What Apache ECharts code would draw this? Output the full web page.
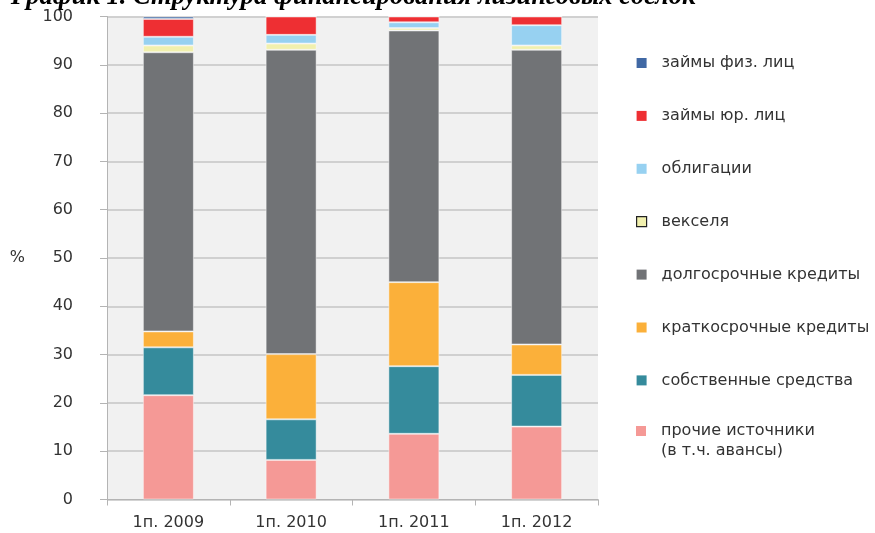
<!DOCTYPE html>
<html>
<head>
<meta charset="utf-8">
<script src="https://cdn.jsdelivr.net/npm/echarts@6/dist/echarts.min.js"></script>
<style>
  html, body { margin: 0; padding: 0; background: #fff; }
  #chart { width: 875px; height: 533px; }
</style>
</head>
<body>
<div id="chart"></div>
<script>
// Структура финансирования лизинговых сделок, % по периодам
const periods = ['1п. 2009', '1п. 2010', '1п. 2011', '1п. 2012'];

const prochie = [21.6, 8.2, 13.6, 15.1];        // прочие источники (в т.ч. авансы)
const sobstvennye = [9.9, 8.4, 14.0, 10.7];     // собственные средства
const kratkosrochnye = [3.3, 13.5, 17.4, 6.3];  // краткосрочные кредиты
const dolgosrochnye = [57.8, 63.0, 52.1, 61.0]; // долгосрочные кредиты
const vekselya = [1.4, 1.3, 0.5, 0.9];          // векселя
const obligacii = [1.8, 1.8, 1.2, 4.2];         // облигации
const zaimyYur = [3.7, 3.8, 1.2, 1.8];          // займы юр. лиц
const zaimyFiz = [0.5, 0, 0, 0];                // займы физ. лиц

const yTicks = { min: 0, max: 100, interval: 10 };

const font = 'DejaVu Sans';

const seriesDefs = [
    { name: 'прочие источники', data: prochie, color: '#f59996' },
    { name: 'собственные средства', data: sobstvennye, color: '#358b9c' },
    { name: 'краткосрочные кредиты', data: kratkosrochnye, color: '#fbb03a' },
    { name: 'долгосрочные кредиты', data: dolgosrochnye, color: '#717376' },
    { name: 'векселя', data: vekselya, color: '#f1f0ae' },
    { name: 'облигации', data: obligacii, color: '#97d1f1' },
    { name: 'займы юр. лиц', data: zaimyYur, color: '#ee2f33' },
    { name: 'займы физ. лиц', data: zaimyFiz, color: '#4068a4' }
];

const lastName = 'прочие источники';
const lastLines = ['прочие источники', '(в т.ч. авансы)'];
const legendOrder = seriesDefs.map(s => s.name).reverse().filter(n => n !== lastName);

// common legend look; a spacer token pushes text away from the icon
const legendBase = {
    orient: 'vertical',
    left: 631,
    itemWidth: 10,
    itemHeight: 10,
    icon: 'rect',
    selectedMode: false,
    itemStyle: { borderWidth: 0 },
    textStyle: {
        fontFamily: font, fontSize: 16, color: '#333', lineHeight: 20,
        rich: {
            s: { width: 10 },
            t: { fontFamily: font, fontSize: 16, color: '#333', lineHeight: 20 }
        }
    }
};

const chart = echarts.init(document.getElementById('chart'));

chart.setOption({
    animation: false,
    title: {
        text: 'График 1. Структура финансирования лизинговых сделок',
        left: 6,
        top: -21,
        textStyle: {
            fontFamily: 'Liberation Serif',
            fontStyle: 'italic',
            fontWeight: 'bold',
            fontSize: 26.5,
            color: '#000'
        }
    },
    grid: {
        left: 107, right: 277, top: 16.5, bottom: 33.5,
        show: true,
        backgroundColor: '#f1f1f1',
        borderWidth: 0
    },
    legend: [
        Object.assign({}, legendBase, {
            top: 48,
            itemGap: 32.9,
            data: legendOrder.map(n => n === 'векселя'
                ? { name: n, itemStyle: { borderColor: '#222', borderWidth: 1.2 } }
                : { name: n }),
            formatter: name => '{s|}{t|' + name + '}'
        }),
        Object.assign({}, legendBase, {
            top: 396,
            data: [{ name: lastName }],
            // blank first line keeps the icon level with the first text line
            formatter: () => '{t| }\n' + lastLines.map(l => '{s|}{t|' + l + '}').join('\n')
        })
    ],
    xAxis: {
        type: 'category',
        data: periods,
        axisLine: { lineStyle: { color: '#b4b4b4', width: 1 } },
        axisTick: { show: true, length: 6, lineStyle: { color: '#b4b4b4' } },
        axisLabel: { margin: 15, fontFamily: font, fontSize: 16, color: '#333' },
        splitLine: { show: false }
    },
    yAxis: {
        type: 'value',
        min: yTicks.min,
        max: yTicks.max,
        interval: yTicks.interval,
        name: '%',
        nameLocation: 'middle',
        nameRotate: 0,
        nameGap: 82,
        nameTextStyle: { fontFamily: font, fontSize: 16, color: '#333' },
        axisLine: { show: true, lineStyle: { color: '#b4b4b4', width: 1 } },
        axisTick: { show: true, length: 7, lineStyle: { color: '#b4b4b4' } },
        axisLabel: { margin: 34, fontFamily: font, fontSize: 16, color: '#333' },
        splitLine: { lineStyle: { color: '#c4c4c4', width: 1.5 } }
    },
    series: seriesDefs.map(s => ({
        name: s.name,
        type: 'bar',
        stack: 'total',
        barWidth: 51,
        data: s.data,
        itemStyle: {
            color: s.color,
            borderColor: 'rgba(255,255,255,0.45)',
            borderWidth: 1
        }
    }))
});
</script>
</body>
</html>
